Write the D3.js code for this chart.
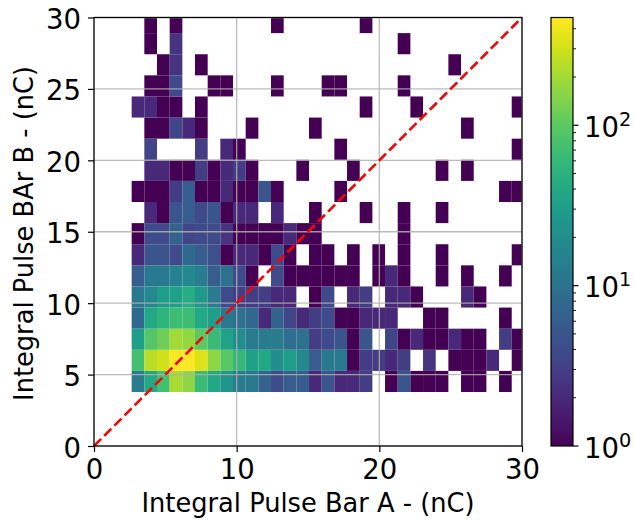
<!DOCTYPE html>
<html>
<head>
<meta charset="utf-8">
<script src="https://cdn.jsdelivr.net/npm/d3@7"></script>
<style>
  html, body { margin: 0; padding: 0; background: #fff; }
  text { font-family: "DejaVu Sans", sans-serif; fill: #000; }
</style>
</head>
<body>
<div id="chart"></div>
<script>
// histogram bin layout, in nC
const xBinStart = 2.64;
const xBinWidth = 0.888;
const yBinStart = 3.78;
const yBinWidth = 1.478;

// counts per bin, first row is the lowest one, 0 = empty bin
const counts = [
  [13, 40, 75, 210, 165, 65, 40, 25, 13, 12, 7, 4, 6, 6, 2, 5, 2, 2, 3, 0, 1, 5, 1, 1, 1, 0, 1, 1, 0, 1, 0],
  [74, 250, 300, 450, 470, 340, 165, 95, 60, 33, 40, 20, 30, 18, 6, 12, 12, 1, 3, 3, 2, 3, 0, 2.5, 0, 1, 1, 1, 2, 0, 1],
  [31, 90, 120, 200, 175, 100, 65, 35, 20, 13, 13, 13, 9, 10, 3, 4, 5, 1, 5, 0, 3.5, 1, 2, 1, 1, 2, 1, 1, 0, 3, 1],
  [8, 40, 55, 70, 70, 40, 30, 12, 10, 8, 2, 7, 3.5, 2, 3, 4, 1, 1, 2, 2, 2, 0, 0, 1, 1, 0, 0, 0, 0, 1, 0],
  [12, 18, 30, 33, 45, 28, 13, 4, 3, 3, 3, 2, 2, 0, 1, 4, 0, 2, 3, 0, 2, 2, 1, 0, 0, 0, 2, 1, 0, 0, 0],
  [6, 12, 12, 15, 18, 13, 6, 10, 4, 1, 0, 4, 1, 1, 1, 1, 1, 1, 0, 1, 2, 1, 0, 0, 1, 0, 1, 0, 0, 1, 0],
  [2, 5, 5, 4, 8, 6, 4.5, 1, 2, 2, 1, 4, 1, 0, 1, 1, 0, 1, 0, 1, 0, 1, 0, 0, 1, 0, 0, 0, 0, 0, 1],
  [1, 4, 4, 7, 3.5, 4, 4, 2.5, 1, 1, 1, 1, 2, 1, 1, 0, 0, 0, 0, 0, 0, 1, 0, 0, 0, 0, 0, 0, 0, 0, 0],
  [0, 2, 1, 5, 6, 4, 5, 1, 2, 2, 0, 2, 0, 0, 1, 0, 0, 0, 1, 0, 0, 1, 0, 0, 1, 0, 0, 0, 0, 0, 0],
  [1, 1, 1, 3, 6, 1, 1, 2, 1, 1, 5, 1, 0, 0, 0, 0, 1, 0, 0, 0, 0, 0, 0, 0, 0, 0, 0, 0, 0, 1, 1],
  [0, 2, 2, 1, 1, 3, 1, 2, 3, 1, 0, 0, 0, 1, 0, 0, 0, 1, 0, 0, 0, 0, 0, 0, 1, 0, 1, 0, 0, 0, 0],
  [0, 3.5, 0, 0, 0, 3, 0, 2, 1, 0, 0, 0, 0, 0, 0, 0, 1, 0, 0, 0, 0, 0, 0, 0, 0, 0, 0, 0, 0, 0, 1],
  [0, 1, 1, 3.5, 2, 1, 0, 0, 0, 1, 0, 0, 0, 0, 1, 0, 0, 0, 0, 0, 0, 0, 0, 0, 0, 0, 1, 0, 0, 0, 0],
  [2, 2, 1, 1, 0, 1, 0, 0, 0, 0, 0, 0, 0, 0, 0, 0, 0, 0, 1, 0, 0, 0, 1, 0, 0, 0, 0, 0, 0, 0, 1],
  [0, 1, 1, 4, 0, 0, 1, 1, 0, 0, 0, 1, 0, 0, 0, 1, 1, 0, 0, 0, 0, 1, 0, 0, 0, 0, 0, 0, 0, 0, 0],
  [0, 0, 1, 2.5, 0, 1, 0, 0, 0, 0, 0, 0, 0, 0, 0, 0, 0, 0, 0, 0, 0, 0, 0, 0, 0, 1, 0, 0, 0, 0, 0],
  [0, 1, 0, 2.5, 0, 0, 0, 0, 0, 0, 0, 0, 0, 0, 0, 0, 0, 0, 0, 0, 0, 1, 0, 0, 0, 0, 0, 0, 0, 0, 0],
  [0, 1, 0, 1, 0, 0, 0, 0, 0, 0, 0, 1, 0, 0, 0, 0, 0, 0, 1, 0, 0, 0, 0, 0, 0, 0, 0, 0, 0, 0, 0]
];

const xTicks = [0, 10, 20, 30];
const yTicks = [0, 5, 10, 15, 20, 25, 30];
const colorMajor = [1, 10, 100];
const colorMinor = [2, 3, 4, 5, 6, 7, 8, 9, 20, 30, 40, 50, 60, 70, 80, 90, 200, 300, 400];
const colorMax = 470;

const width = 634;
const height = 520;
const plot = { left: 94, right: 522, top: 17.5, bottom: 446 };
const bar = { left: 551, right: 573 };
const tickFont = '27.5px';
const labelFont = '25.7px';

const svg = d3.select('#chart').append('svg')
  .attr('width', width)
  .attr('height', height)
  .style('display', 'block');

const x = d3.scaleLinear().domain([0, 30]).range([plot.left, plot.right]);
const y = d3.scaleLinear().domain([0, 30]).range([plot.bottom, plot.top]);
const color = d3.scaleSequentialLog(d3.interpolateViridis).domain([1, colorMax]);
const colorY = d3.scaleLog().domain([1, colorMax]).range([plot.bottom, plot.top]);

svg.append('clipPath').attr('id', 'plot-clip')
  .append('rect')
  .attr('x', plot.left)
  .attr('y', plot.top)
  .attr('width', plot.right - plot.left)
  .attr('height', plot.bottom - plot.top);

// Heatmap
const cells = [];
counts.forEach((row, r) => row.forEach((v, c) => {
  if (v > 0) cells.push({ r, c, v });
}));

svg.append('g')
  .attr('clip-path', 'url(#plot-clip)')
  .selectAll('rect')
  .data(cells)
  .join('rect')
  .attr('x', d => x(xBinStart + d.c * xBinWidth))
  .attr('y', d => y(yBinStart + (d.r + 1) * yBinWidth))
  .attr('width', x(xBinWidth) - x(0))
  .attr('height', y(0) - y(yBinWidth))
  .attr('fill', d => color(d.v));

// Grid
const grid = svg.append('g')
  .attr('stroke', '#b0b0b0')
  .attr('stroke-opacity', 0.85)
  .attr('stroke-width', 1.3);

grid.selectAll('.gx')
  .data(xTicks)
  .join('line')
  .attr('x1', d => x(d))
  .attr('x2', d => x(d))
  .attr('y1', plot.top)
  .attr('y2', plot.bottom);

grid.selectAll('.gy')
  .data(yTicks)
  .join('line')
  .attr('x1', plot.left)
  .attr('x2', plot.right)
  .attr('y1', d => y(d))
  .attr('y2', d => y(d));

// Diagonal
svg.append('line')
  .attr('x1', x(0))
  .attr('y1', y(0))
  .attr('x2', x(30))
  .attr('y2', y(30))
  .attr('stroke', '#ff0000')
  .attr('stroke-width', 2.6)
  .attr('stroke-dasharray', '10,4.4');

// Frame
svg.append('rect')
  .attr('x', plot.left)
  .attr('y', plot.top)
  .attr('width', plot.right - plot.left)
  .attr('height', plot.bottom - plot.top)
  .attr('fill', 'none')
  .attr('stroke', '#000')
  .attr('stroke-width', 1.2);

// Axes
const gx = svg.append('g')
  .attr('transform', `translate(0,${plot.bottom})`)
  .call(d3.axisBottom(x).tickValues(xTicks).tickSize(6).tickPadding(7.5));

const gy = svg.append('g')
  .attr('transform', `translate(${plot.left},0)`)
  .call(d3.axisLeft(y).tickValues(yTicks).tickSize(6).tickPadding(7));

[gx, gy].forEach(g => {
  g.select('.domain').remove();
  g.selectAll('line').attr('stroke', '#000').attr('stroke-width', 1.2);
  g.selectAll('text')
    .style('font-family', '"DejaVu Sans", sans-serif')
    .style('font-size', tickFont);
});
gy.selectAll('text').attr('dy', '0.4em');

svg.append('text')
  .attr('x', 308)
  .attr('y', 511.5)
  .attr('text-anchor', 'middle')
  .style('font-size', labelFont)
  .text('Integral Pulse Bar A - (nC)');

svg.append('text')
  .attr('transform', 'translate(33,233.5) rotate(-90)')
  .attr('text-anchor', 'middle')
  .style('font-size', labelFont)
  .text('Integral Pulse BAr B - (nC)');

// Colorbar
const steps = d3.range(0, 1.0001, 1 / 64);
const gradient = svg.append('linearGradient')
  .attr('id', 'bar-gradient')
  .attr('x1', 0).attr('y1', 1)
  .attr('x2', 0).attr('y2', 0);

gradient.selectAll('stop')
  .data(steps)
  .join('stop')
  .attr('offset', d => d)
  .attr('stop-color', d => d3.interpolateViridis(d));

svg.append('rect')
  .attr('x', bar.left)
  .attr('y', plot.top)
  .attr('width', bar.right - bar.left)
  .attr('height', plot.bottom - plot.top)
  .attr('fill', 'url(#bar-gradient)')
  .attr('stroke', '#000')
  .attr('stroke-width', 1.2);

const barAxis = svg.append('g').attr('transform', `translate(${bar.right},0)`);

barAxis.selectAll('.minor')
  .data(colorMinor)
  .join('line')
  .attr('x2', 3)
  .attr('y1', d => colorY(d))
  .attr('y2', d => colorY(d))
  .attr('stroke', '#000')
  .attr('stroke-width', 0.9);

barAxis.selectAll('.major')
  .data(colorMajor)
  .join('line')
  .attr('x2', 5.5)
  .attr('y1', d => colorY(d))
  .attr('y2', d => colorY(d))
  .attr('stroke', '#000')
  .attr('stroke-width', 1.2);

const barLabels = barAxis.selectAll('text')
  .data(colorMajor)
  .join('text')
  .attr('x', 11)
  .attr('y', d => colorY(d) + 11.5)
  .style('font-size', tickFont);

barLabels.append('tspan').text('10');
barLabels.append('tspan')
  .attr('dy', -11)
  .style('font-size', '19.3px')
  .text(d => Math.round(Math.log10(d)));
</script>
</body>
</html>
